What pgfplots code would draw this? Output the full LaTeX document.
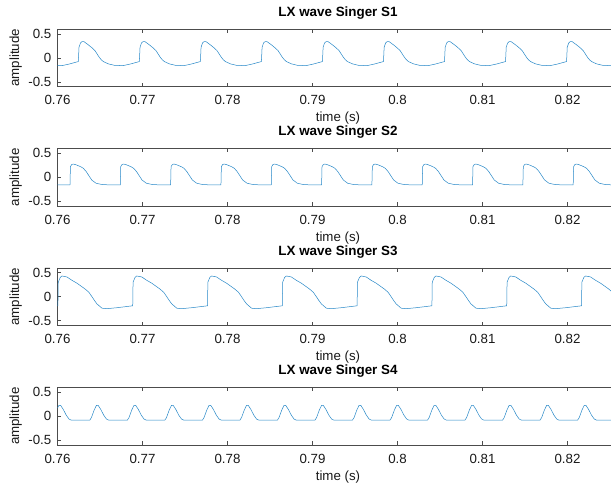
\documentclass[border=0pt]{standalone}
\usepackage{pgfplots}
\pgfplotsset{compat=1.18}
\usepackage{fontspec}
\setmainfont{Liberation Sans}
\definecolor{mblue}{rgb}{0,0.447,0.741}
\definecolor{axgray}{rgb}{0.3,0.3,0.3}
\pgfplotsset{
  lxstyle/.style={
    scale only axis, width=561pt, height=57.7pt,
    xmin=0.76, xmax=0.826, ymin=-0.6, ymax=0.6,
    xtick={0.76,0.77,0.78,0.79,0.8,0.81,0.82},
    ytick={-0.5,0,0.5},
    /pgf/number format/assume math mode=true,
    /pgf/number format/fixed,
    tick label style={font=\fontsize{13.3}{15}\selectfont, text=black!90},
    label style={font=\fontsize{13.3}{15}\selectfont, text=black!90},
    xticklabel style={anchor=base, yshift=-18pt},
    yticklabel style={anchor=east, inner sep=0pt, xshift=-6pt},
    axis line style={axgray, line width=0.6pt},
    tick style={axgray, line width=0.6pt},
    major tick length=4pt,
    xlabel={time (s)}, ylabel={amplitude},
    xlabel style={at={(axis description cs:0.5,0)}, anchor=base, yshift=-35pt},
    ylabel style={at={(axis description cs:-0.0684,0.5)}, anchor=base},
    title style={at={(axis description cs:0.5,1)}, anchor=base, yshift=6.5pt, font=\bfseries\fontsize{13.4}{15}\selectfont},
    clip=true,
  },
  lxline/.style={mblue!85, line width=0.5pt, line join=round}
}
\begin{document}
\begin{tikzpicture}
\useasboundingbox (0,0) rectangle (611pt,-485pt);
% ---------- S1 ----------
\begin{axis}[lxstyle, at={(57.5pt,-29pt)}, anchor=north west, title={LX wave Singer S1}]
\addplot[lxline] coordinates {
(0.76000,-0.159) (0.76056,-0.16) (0.76135,-0.13)
(0.76245,-0.077) (0.76253,0.22) (0.76270,0.31) (0.76290,0.34) (0.76313,0.335) (0.76363,0.27) (0.76405,0.21) (0.76441,0.15) (0.76470,0.07) (0.76492,0.01) (0.76515,-0.04) (0.76539,-0.077) (0.76598,-0.125) (0.76676,-0.158) (0.76774,-0.16) (0.76853,-0.13)
(0.76963,-0.077) (0.76971,0.22) (0.76988,0.31) (0.77008,0.34) (0.77031,0.335) (0.77081,0.27) (0.77123,0.21) (0.77159,0.15) (0.77188,0.07) (0.77210,0.01) (0.77233,-0.04) (0.77257,-0.077) (0.77316,-0.125) (0.77394,-0.158) (0.77492,-0.16) (0.77571,-0.13)
(0.77681,-0.077) (0.77689,0.22) (0.77706,0.31) (0.77726,0.34) (0.77749,0.335) (0.77799,0.27) (0.77841,0.21) (0.77877,0.15) (0.77906,0.07) (0.77928,0.01) (0.77951,-0.04) (0.77975,-0.077) (0.78034,-0.125) (0.78112,-0.158) (0.78210,-0.16) (0.78289,-0.13)
(0.78399,-0.077) (0.78407,0.22) (0.78424,0.31) (0.78444,0.34) (0.78467,0.335) (0.78517,0.27) (0.78559,0.21) (0.78595,0.15) (0.78624,0.07) (0.78646,0.01) (0.78669,-0.04) (0.78693,-0.077) (0.78752,-0.125) (0.78830,-0.158) (0.78928,-0.16) (0.79007,-0.13)
(0.79117,-0.077) (0.79125,0.22) (0.79142,0.31) (0.79162,0.34) (0.79185,0.335) (0.79235,0.27) (0.79277,0.21) (0.79313,0.15) (0.79342,0.07) (0.79364,0.01) (0.79387,-0.04) (0.79411,-0.077) (0.79470,-0.125) (0.79548,-0.158) (0.79646,-0.16) (0.79725,-0.13)
(0.79835,-0.077) (0.79843,0.22) (0.79860,0.31) (0.79880,0.34) (0.79903,0.335) (0.79953,0.27) (0.79995,0.21) (0.80031,0.15) (0.80060,0.07) (0.80082,0.01) (0.80105,-0.04) (0.80129,-0.077) (0.80188,-0.125) (0.80266,-0.158) (0.80364,-0.16) (0.80443,-0.13)
(0.80553,-0.077) (0.80561,0.22) (0.80578,0.31) (0.80598,0.34) (0.80621,0.335) (0.80671,0.27) (0.80713,0.21) (0.80749,0.15) (0.80778,0.07) (0.80800,0.01) (0.80823,-0.04) (0.80847,-0.077) (0.80906,-0.125) (0.80984,-0.158) (0.81082,-0.16) (0.81161,-0.13)
(0.81271,-0.077) (0.81279,0.22) (0.81296,0.31) (0.81316,0.34) (0.81339,0.335) (0.81389,0.27) (0.81431,0.21) (0.81467,0.15) (0.81496,0.07) (0.81518,0.01) (0.81541,-0.04) (0.81565,-0.077) (0.81624,-0.125) (0.81702,-0.158) (0.81800,-0.16) (0.81879,-0.13)
(0.81989,-0.077) (0.81997,0.22) (0.82014,0.31) (0.82034,0.34) (0.82057,0.335) (0.82107,0.27) (0.82149,0.21) (0.82185,0.15) (0.82214,0.07) (0.82236,0.01) (0.82259,-0.04) (0.82283,-0.077) (0.82342,-0.125) (0.82420,-0.158) (0.82518,-0.16) (0.82597,-0.13)
};
\end{axis}
% ---------- S2 ----------
\begin{axis}[lxstyle, at={(57.5pt,-148.4pt)}, anchor=north west, title={LX wave Singer S2}]
\addplot[lxline] coordinates {
(0.76000,-0.16)
(0.76147,-0.16) (0.76152,0.22) (0.76167,0.265) (0.76186,0.275) (0.76217,0.26) (0.76245,0.24) (0.76277,0.215) (0.76304,0.186) (0.76337,0.12) (0.76363,0.05) (0.76402,-0.056) (0.76453,-0.124) (0.76520,-0.15) (0.76618,-0.16)
(0.76739,-0.16) (0.76744,0.22) (0.76759,0.265) (0.76778,0.275) (0.76809,0.26) (0.76837,0.24) (0.76869,0.215) (0.76896,0.186) (0.76929,0.12) (0.76955,0.05) (0.76994,-0.056) (0.77045,-0.124) (0.77112,-0.15) (0.77210,-0.16)
(0.77331,-0.16) (0.77336,0.22) (0.77351,0.265) (0.77370,0.275) (0.77401,0.26) (0.77429,0.24) (0.77461,0.215) (0.77488,0.186) (0.77521,0.12) (0.77547,0.05) (0.77586,-0.056) (0.77637,-0.124) (0.77704,-0.15) (0.77802,-0.16)
(0.77923,-0.16) (0.77928,0.22) (0.77943,0.265) (0.77962,0.275) (0.77993,0.26) (0.78021,0.24) (0.78053,0.215) (0.78080,0.186) (0.78113,0.12) (0.78139,0.05) (0.78178,-0.056) (0.78229,-0.124) (0.78296,-0.15) (0.78394,-0.16)
(0.78515,-0.16) (0.78520,0.22) (0.78535,0.265) (0.78554,0.275) (0.78585,0.26) (0.78613,0.24) (0.78645,0.215) (0.78672,0.186) (0.78705,0.12) (0.78731,0.05) (0.78770,-0.056) (0.78821,-0.124) (0.78888,-0.15) (0.78986,-0.16)
(0.79107,-0.16) (0.79112,0.22) (0.79127,0.265) (0.79146,0.275) (0.79177,0.26) (0.79205,0.24) (0.79237,0.215) (0.79264,0.186) (0.79297,0.12) (0.79323,0.05) (0.79362,-0.056) (0.79413,-0.124) (0.79480,-0.15) (0.79578,-0.16)
(0.79699,-0.16) (0.79704,0.22) (0.79719,0.265) (0.79738,0.275) (0.79769,0.26) (0.79797,0.24) (0.79829,0.215) (0.79856,0.186) (0.79889,0.12) (0.79915,0.05) (0.79954,-0.056) (0.80005,-0.124) (0.80072,-0.15) (0.80170,-0.16)
(0.80291,-0.16) (0.80296,0.22) (0.80311,0.265) (0.80330,0.275) (0.80361,0.26) (0.80389,0.24) (0.80421,0.215) (0.80448,0.186) (0.80481,0.12) (0.80507,0.05) (0.80546,-0.056) (0.80597,-0.124) (0.80664,-0.15) (0.80762,-0.16)
(0.80883,-0.16) (0.80888,0.22) (0.80903,0.265) (0.80922,0.275) (0.80953,0.26) (0.80981,0.24) (0.81013,0.215) (0.81040,0.186) (0.81073,0.12) (0.81099,0.05) (0.81138,-0.056) (0.81189,-0.124) (0.81256,-0.15) (0.81354,-0.16)
(0.81475,-0.16) (0.81480,0.22) (0.81495,0.265) (0.81514,0.275) (0.81545,0.26) (0.81573,0.24) (0.81605,0.215) (0.81632,0.186) (0.81665,0.12) (0.81691,0.05) (0.81730,-0.056) (0.81781,-0.124) (0.81848,-0.15) (0.81946,-0.16)
(0.82067,-0.16) (0.82072,0.22) (0.82087,0.265) (0.82106,0.275) (0.82137,0.26) (0.82165,0.24) (0.82197,0.215) (0.82224,0.186) (0.82257,0.12) (0.82283,0.05) (0.82322,-0.056) (0.82373,-0.124) (0.82440,-0.15) (0.82538,-0.16)
(0.82600,-0.16)
};
\end{axis}
% ---------- S3 ----------
\begin{axis}[lxstyle, at={(57.5pt,-267.8pt)}, anchor=north west, title={LX wave Singer S3}]
\addplot[lxline] coordinates {
(0.76000,-0.19)
(0.76005,-0.19) (0.76009,0.30) (0.76032,0.40) (0.76052,0.43) (0.76111,0.41) (0.76170,0.34) (0.76229,0.28) (0.76327,0.156) (0.76370,0.09) (0.76405,0.0) (0.76435,-0.08) (0.76464,-0.15) (0.76523,-0.24) (0.76581,-0.25) (0.76699,-0.23)
(0.76885,-0.19) (0.76889,0.30) (0.76912,0.40) (0.76932,0.43) (0.76991,0.41) (0.77050,0.34) (0.77109,0.28) (0.77207,0.156) (0.77250,0.09) (0.77285,0.0) (0.77315,-0.08) (0.77344,-0.15) (0.77403,-0.24) (0.77461,-0.25) (0.77579,-0.23)
(0.77765,-0.19) (0.77769,0.30) (0.77792,0.40) (0.77812,0.43) (0.77871,0.41) (0.77930,0.34) (0.77989,0.28) (0.78087,0.156) (0.78130,0.09) (0.78165,0.0) (0.78195,-0.08) (0.78224,-0.15) (0.78283,-0.24) (0.78341,-0.25) (0.78459,-0.23)
(0.78645,-0.19) (0.78649,0.30) (0.78672,0.40) (0.78692,0.43) (0.78751,0.41) (0.78810,0.34) (0.78869,0.28) (0.78967,0.156) (0.79010,0.09) (0.79045,0.0) (0.79075,-0.08) (0.79104,-0.15) (0.79163,-0.24) (0.79221,-0.25) (0.79339,-0.23)
(0.79525,-0.19) (0.79529,0.30) (0.79552,0.40) (0.79572,0.43) (0.79631,0.41) (0.79690,0.34) (0.79749,0.28) (0.79847,0.156) (0.79890,0.09) (0.79925,0.0) (0.79955,-0.08) (0.79984,-0.15) (0.80043,-0.24) (0.80101,-0.25) (0.80219,-0.23)
(0.80405,-0.19) (0.80409,0.30) (0.80432,0.40) (0.80452,0.43) (0.80511,0.41) (0.80570,0.34) (0.80629,0.28) (0.80727,0.156) (0.80770,0.09) (0.80805,0.0) (0.80835,-0.08) (0.80864,-0.15) (0.80923,-0.24) (0.80981,-0.25) (0.81099,-0.23)
(0.81285,-0.19) (0.81289,0.30) (0.81312,0.40) (0.81332,0.43) (0.81391,0.41) (0.81450,0.34) (0.81509,0.28) (0.81607,0.156) (0.81650,0.09) (0.81685,0.0) (0.81715,-0.08) (0.81744,-0.15) (0.81803,-0.24) (0.81861,-0.25) (0.81979,-0.23)
(0.82165,-0.19) (0.82169,0.30) (0.82192,0.40) (0.82212,0.43) (0.82271,0.41) (0.82330,0.34) (0.82389,0.28) (0.82487,0.156) (0.82530,0.09) (0.82565,0.0) (0.82595,-0.08) (0.82624,-0.15)
};
\end{axis}
% ---------- S4 ----------
\begin{axis}[lxstyle, at={(57.5pt,-387.3pt)}, anchor=north west, title={LX wave Singer S4}]
\addplot[lxline] coordinates {
(0.76000,0.17) (0.76017,0.225) (0.76037,0.225) (0.76068,0.14) (0.76103,0.02) (0.76135,-0.06) (0.76162,-0.083)
(0.76380,-0.083) (0.76399,-0.03) (0.76431,0.125) (0.76458,0.225) (0.76478,0.225) (0.76509,0.14) (0.76544,0.02) (0.76576,-0.06) (0.76603,-0.083)
(0.76822,-0.083) (0.76841,-0.03) (0.76873,0.125) (0.76900,0.225) (0.76920,0.225) (0.76951,0.14) (0.76986,0.02) (0.77018,-0.06) (0.77045,-0.083)
(0.77263,-0.083) (0.77282,-0.03) (0.77314,0.125) (0.77341,0.225) (0.77361,0.225) (0.77392,0.14) (0.77427,0.02) (0.77459,-0.06) (0.77486,-0.083)
(0.77705,-0.083) (0.77724,-0.03) (0.77756,0.125) (0.77783,0.225) (0.77803,0.225) (0.77834,0.14) (0.77869,0.02) (0.77901,-0.06) (0.77928,-0.083)
(0.78146,-0.083) (0.78165,-0.03) (0.78197,0.125) (0.78224,0.225) (0.78244,0.225) (0.78275,0.14) (0.78310,0.02) (0.78342,-0.06) (0.78369,-0.083)
(0.78587,-0.083) (0.78606,-0.03) (0.78638,0.125) (0.78665,0.225) (0.78685,0.225) (0.78716,0.14) (0.78751,0.02) (0.78783,-0.06) (0.78810,-0.083)
(0.79029,-0.083) (0.79048,-0.03) (0.79080,0.125) (0.79107,0.225) (0.79127,0.225) (0.79158,0.14) (0.79193,0.02) (0.79225,-0.06) (0.79252,-0.083)
(0.79470,-0.083) (0.79489,-0.03) (0.79521,0.125) (0.79548,0.225) (0.79568,0.225) (0.79599,0.14) (0.79634,0.02) (0.79666,-0.06) (0.79693,-0.083)
(0.79912,-0.083) (0.79931,-0.03) (0.79963,0.125) (0.79990,0.225) (0.80010,0.225) (0.80041,0.14) (0.80076,0.02) (0.80108,-0.06) (0.80135,-0.083)
(0.80353,-0.083) (0.80372,-0.03) (0.80404,0.125) (0.80431,0.225) (0.80451,0.225) (0.80482,0.14) (0.80517,0.02) (0.80549,-0.06) (0.80576,-0.083)
(0.80794,-0.083) (0.80813,-0.03) (0.80845,0.125) (0.80872,0.225) (0.80892,0.225) (0.80923,0.14) (0.80958,0.02) (0.80990,-0.06) (0.81017,-0.083)
(0.81236,-0.083) (0.81255,-0.03) (0.81287,0.125) (0.81314,0.225) (0.81334,0.225) (0.81365,0.14) (0.81400,0.02) (0.81432,-0.06) (0.81459,-0.083)
(0.81677,-0.083) (0.81696,-0.03) (0.81728,0.125) (0.81755,0.225) (0.81775,0.225) (0.81806,0.14) (0.81841,0.02) (0.81873,-0.06) (0.81900,-0.083)
(0.82119,-0.083) (0.82138,-0.03) (0.82170,0.125) (0.82197,0.225) (0.82217,0.225) (0.82248,0.14) (0.82283,0.02) (0.82315,-0.06) (0.82342,-0.083)
(0.82560,-0.083) (0.82579,-0.03) (0.82600,0.06)
};
\end{axis}
\end{tikzpicture}
\end{document}
